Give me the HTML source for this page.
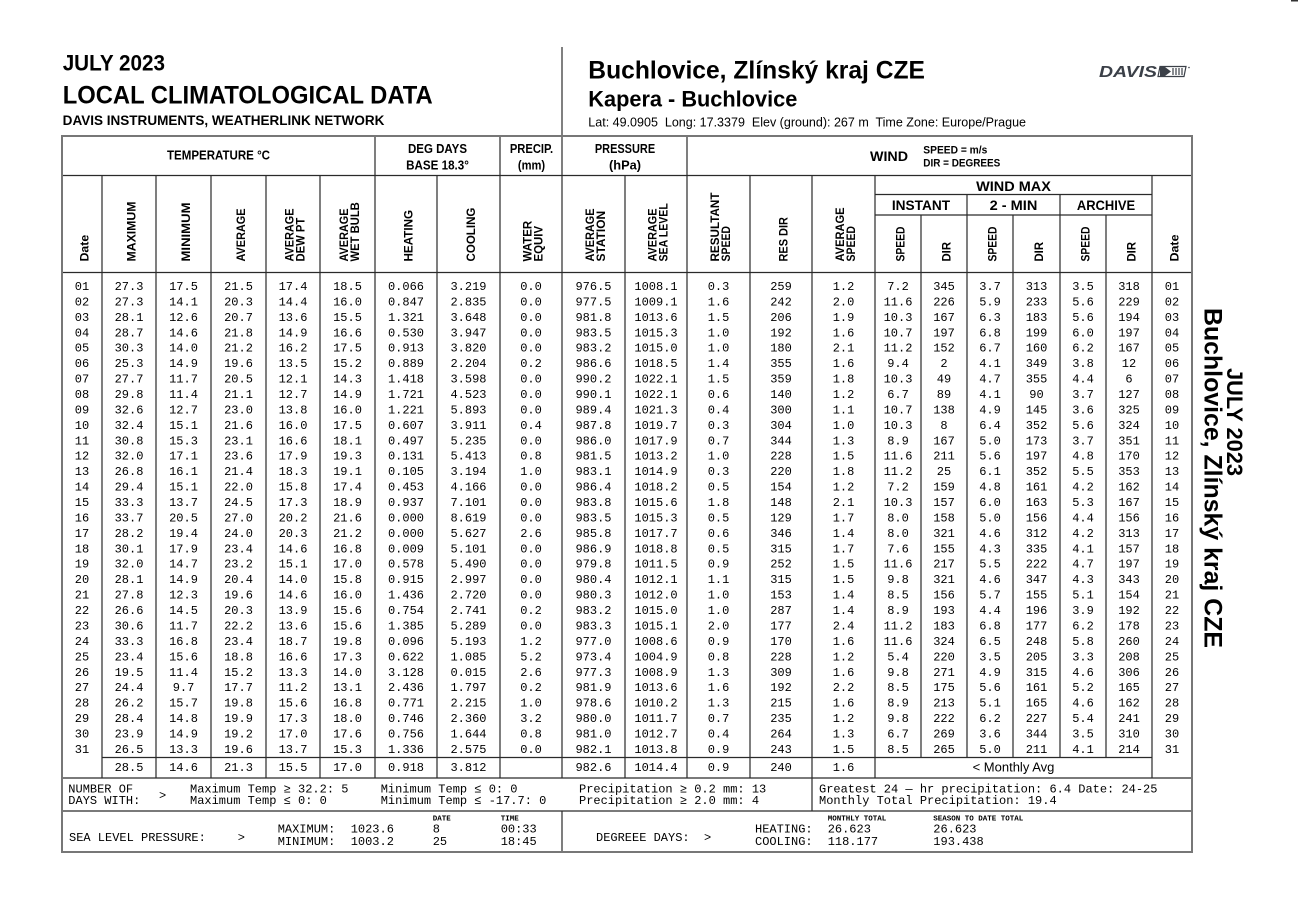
<!DOCTYPE html>
<html><head><meta charset="utf-8">
<style>
html,body{margin:0;padding:0;background:#fff;width:1298px;height:918px;overflow:hidden}
svg{display:block}
.d text{font-family:"Liberation Mono",monospace;font-size:12px;text-anchor:middle;fill:#000}
.h{font-family:"Liberation Sans",sans-serif;font-weight:bold;fill:#000}
.r text{font-family:"Liberation Sans",sans-serif;font-weight:bold;font-size:12px;fill:#000}
.m{font-family:"Liberation Mono",monospace;font-size:12px;white-space:pre;fill:#000}
.s{font-family:"Liberation Mono",monospace;font-size:7.5px;font-weight:bold;white-space:pre;fill:#000}
</style></head><body>
<svg width="1298" height="918" viewBox="0 0 1298 918" xmlns="http://www.w3.org/2000/svg">
<rect width="1298" height="918" fill="#fff"/>
<rect x="1291" y="0" width="7" height="1.5" fill="#333"/>

<!-- Titles -->
<text class="h" x="62.7" y="70.7" font-size="22" textLength="102.3" lengthAdjust="spacingAndGlyphs">JULY 2023</text>
<text class="h" x="62.7" y="103.3" font-size="25" textLength="370" lengthAdjust="spacingAndGlyphs">LOCAL CLIMATOLOGICAL DATA</text>
<text class="h" x="62.7" y="125" font-size="13.4" textLength="321.7" lengthAdjust="spacingAndGlyphs">DAVIS INSTRUMENTS, WEATHERLINK NETWORK</text>

<text class="h" x="588.3" y="78.3" font-size="25" textLength="336.7" lengthAdjust="spacingAndGlyphs">Buchlovice, Zlínský kraj CZE</text>
<text class="h" x="588.3" y="106.7" font-size="22.5" textLength="209" lengthAdjust="spacingAndGlyphs">Kapera - Buchlovice</text>
<text x="588.3" y="126.7" font-family="Liberation Sans, sans-serif" font-size="12.5" style="white-space:pre" textLength="437.7" lengthAdjust="spacingAndGlyphs">Lat: 49.0905  Long: 17.3379  Elev (ground): 267 m  Time Zone: Europe/Prague</text>

<!-- Davis logo -->
<text x="1099" y="77" font-family="Liberation Sans, sans-serif" font-weight="bold" font-style="italic" font-size="16" textLength="58" lengthAdjust="spacingAndGlyphs" fill="#3b4048">DAVIS</text>
<g stroke="#3b4048" fill="none" stroke-width="1.2">
<polygon points="1160,66.5 1186,66.5 1184,76.5 1158,76.5"/>
<path d="M1173 68V75M1176 68V75M1179 68V75M1182 68V75"/>
</g>
<rect x="1160" y="67" width="5" height="9" fill="#3b4048"/>
<polygon points="1165,67 1171,71.5 1165,76" fill="#3b4048"/>
<circle cx="1189" cy="67.5" r="0.8" fill="#3b4048"/>

<!-- Right rotated title -->
<text class="h" transform="translate(1227,368) rotate(90)" font-size="22" textLength="108" lengthAdjust="spacingAndGlyphs">JULY 2023</text>
<text class="h" transform="translate(1204.5,308) rotate(90)" font-size="25" textLength="340" lengthAdjust="spacingAndGlyphs">Buchlovice, Zlínský kraj CZE</text>

<!-- Table lines -->
<g stroke="#2a2a2a" stroke-width="1.2" fill="none">
<path d="M562 47V136"/>
<path d="M62 175.5H1192M62 272.5H1192M102 757.5H1152M62 778H1192M62 811H1192M875 194.5H1152M875 215H1152"/>
<path d="M375 136V175M500 136V175M562 136V175M687 136V175"/>
<path d="M102 175V778M156 175V778M211 175V778M266 175V778M320 175V778M375 175V778M437 175V778M500 175V778M562 175V778M625 175V778M687 175V778M750 175V778M812 175V778M875 175V778M1152 175V778"/>
<path d="M967 194.5V757.5M1060 194.5V757.5M921 215V757.5M1013 215V757.5M1106 215V757.5"/>
<path d="M812 778V811M562 811V852"/>
</g>
<rect x="62" y="136" width="1130" height="716" fill="none" stroke="#777" stroke-width="2"/>

<!-- Horizontal headers -->
<g class="h" text-anchor="middle" font-size="12.5">
<text x="218.5" y="159.3" textLength="103" lengthAdjust="spacingAndGlyphs">TEMPERATURE °C</text>
<text x="437.5" y="153" textLength="59" lengthAdjust="spacingAndGlyphs">DEG DAYS</text>
<text x="437.5" y="169.3" textLength="62.7" lengthAdjust="spacingAndGlyphs">BASE 18.3°</text>
<text x="531.5" y="153" textLength="43.3" lengthAdjust="spacingAndGlyphs">PRECIP.</text>
<text x="531.5" y="169.3" textLength="27.3" lengthAdjust="spacingAndGlyphs">(mm)</text>
<text x="625" y="153" textLength="60.3" lengthAdjust="spacingAndGlyphs">PRESSURE</text>
<text x="625" y="169.3" textLength="32" lengthAdjust="spacingAndGlyphs">(hPa)</text>
</g>
<text class="h" x="870" y="161" font-size="14" textLength="38" lengthAdjust="spacingAndGlyphs">WIND</text>
<text class="h" x="923.3" y="153.3" font-size="11" textLength="64" lengthAdjust="spacingAndGlyphs">SPEED = m/s</text>
<text class="h" x="923.3" y="166.7" font-size="11" textLength="77" lengthAdjust="spacingAndGlyphs">DIR = DEGREES</text>
<g class="h" text-anchor="middle" font-size="14">
<text x="1013.5" y="191" textLength="74.7" lengthAdjust="spacingAndGlyphs">WIND MAX</text>
<text x="921" y="210" textLength="58.3" lengthAdjust="spacingAndGlyphs">INSTANT</text>
<text x="1013.5" y="210" textLength="47.7" lengthAdjust="spacingAndGlyphs">2 - MIN</text>
<text x="1106" y="210" textLength="58.3" lengthAdjust="spacingAndGlyphs">ARCHIVE</text>
</g>

<!-- Rotated headers -->
<g class="r">
<text transform="translate(88.5,261.5) rotate(-90)" textLength="26.7" lengthAdjust="spacingAndGlyphs">Date</text>
<text transform="translate(135.5,261.5) rotate(-90)" textLength="60" lengthAdjust="spacingAndGlyphs">MAXIMUM</text>
<text transform="translate(190,261.5) rotate(-90)" textLength="59" lengthAdjust="spacingAndGlyphs">MINIMUM</text>
<text transform="translate(245,261.5) rotate(-90)" textLength="53" lengthAdjust="spacingAndGlyphs">AVERAGE</text>
<text transform="translate(293.7,261.5) rotate(-90)" textLength="53" lengthAdjust="spacingAndGlyphs">AVERAGE</text>
<text transform="translate(304.7,261.5) rotate(-90)" textLength="43.8" lengthAdjust="spacingAndGlyphs">DEW PT</text>
<text transform="translate(348.2,261.5) rotate(-90)" textLength="53" lengthAdjust="spacingAndGlyphs">AVERAGE</text>
<text transform="translate(359.2,261.5) rotate(-90)" textLength="59.3" lengthAdjust="spacingAndGlyphs">WET BULB</text>
<text transform="translate(412.5,261.5) rotate(-90)" textLength="51.6" lengthAdjust="spacingAndGlyphs">HEATING</text>
<text transform="translate(475,261.5) rotate(-90)" textLength="53.9" lengthAdjust="spacingAndGlyphs">COOLING</text>
<text transform="translate(531.7,261.5) rotate(-90)" textLength="40.7" lengthAdjust="spacingAndGlyphs">WATER</text>
<text transform="translate(542.7,261.5) rotate(-90)" textLength="35.6" lengthAdjust="spacingAndGlyphs">EQUIV</text>
<text transform="translate(594.2,261.5) rotate(-90)" textLength="53" lengthAdjust="spacingAndGlyphs">AVERAGE</text>
<text transform="translate(605.2,261.5) rotate(-90)" textLength="50.6" lengthAdjust="spacingAndGlyphs">STATION</text>
<text transform="translate(656.7,261.5) rotate(-90)" textLength="53" lengthAdjust="spacingAndGlyphs">AVERAGE</text>
<text transform="translate(667.7,261.5) rotate(-90)" textLength="58.3" lengthAdjust="spacingAndGlyphs">SEA LEVEL</text>
<text transform="translate(719.2,261.5) rotate(-90)" textLength="69" lengthAdjust="spacingAndGlyphs">RESULTANT</text>
<text transform="translate(730.2,261.5) rotate(-90)" textLength="35.5" lengthAdjust="spacingAndGlyphs">SPEED</text>
<text transform="translate(787.5,261.5) rotate(-90)" textLength="44.4" lengthAdjust="spacingAndGlyphs">RES DIR</text>
<text transform="translate(844.2,261.5) rotate(-90)" textLength="54" lengthAdjust="spacingAndGlyphs">AVERAGE</text>
<text transform="translate(855.2,261.5) rotate(-90)" textLength="35.5" lengthAdjust="spacingAndGlyphs">SPEED</text>
<text transform="translate(904.5,261.5) rotate(-90)" textLength="35" lengthAdjust="spacingAndGlyphs">SPEED</text>
<text transform="translate(950.5,261.5) rotate(-90)" textLength="19.5" lengthAdjust="spacingAndGlyphs">DIR</text>
<text transform="translate(996.5,261.5) rotate(-90)" textLength="35" lengthAdjust="spacingAndGlyphs">SPEED</text>
<text transform="translate(1043,261.5) rotate(-90)" textLength="19.5" lengthAdjust="spacingAndGlyphs">DIR</text>
<text transform="translate(1089.5,261.5) rotate(-90)" textLength="35" lengthAdjust="spacingAndGlyphs">SPEED</text>
<text transform="translate(1135.5,261.5) rotate(-90)" textLength="19.5" lengthAdjust="spacingAndGlyphs">DIR</text>
<text transform="translate(1178.5,261.5) rotate(-90)" textLength="27" lengthAdjust="spacingAndGlyphs">Date</text>
</g>

<!-- Data rows -->
<g class="d">
<text y="290"><tspan x="82">01</tspan><tspan x="129">27.3</tspan><tspan x="183.5">17.5</tspan><tspan x="238.5">21.5</tspan><tspan x="293">17.4</tspan><tspan x="347.5">18.5</tspan><tspan x="406">0.066</tspan><tspan x="468.5">3.219</tspan><tspan x="531">0.0</tspan><tspan x="593.5">976.5</tspan><tspan x="656">1008.1</tspan><tspan x="718.5">0.3</tspan><tspan x="781">259</tspan><tspan x="843.5">1.2</tspan><tspan x="898">7.2</tspan><tspan x="944">345</tspan><tspan x="990">3.7</tspan><tspan x="1036.5">313</tspan><tspan x="1083">3.5</tspan><tspan x="1129">318</tspan><tspan x="1172">01</tspan></text>
<text y="305.4"><tspan x="82">02</tspan><tspan x="129">27.3</tspan><tspan x="183.5">14.1</tspan><tspan x="238.5">20.3</tspan><tspan x="293">14.4</tspan><tspan x="347.5">16.0</tspan><tspan x="406">0.847</tspan><tspan x="468.5">2.835</tspan><tspan x="531">0.0</tspan><tspan x="593.5">977.5</tspan><tspan x="656">1009.1</tspan><tspan x="718.5">1.6</tspan><tspan x="781">242</tspan><tspan x="843.5">2.0</tspan><tspan x="898">11.6</tspan><tspan x="944">226</tspan><tspan x="990">5.9</tspan><tspan x="1036.5">233</tspan><tspan x="1083">5.6</tspan><tspan x="1129">229</tspan><tspan x="1172">02</tspan></text>
<text y="320.9"><tspan x="82">03</tspan><tspan x="129">28.1</tspan><tspan x="183.5">12.6</tspan><tspan x="238.5">20.7</tspan><tspan x="293">13.6</tspan><tspan x="347.5">15.5</tspan><tspan x="406">1.321</tspan><tspan x="468.5">3.648</tspan><tspan x="531">0.0</tspan><tspan x="593.5">981.8</tspan><tspan x="656">1013.6</tspan><tspan x="718.5">1.5</tspan><tspan x="781">206</tspan><tspan x="843.5">1.9</tspan><tspan x="898">10.3</tspan><tspan x="944">167</tspan><tspan x="990">6.3</tspan><tspan x="1036.5">183</tspan><tspan x="1083">5.6</tspan><tspan x="1129">194</tspan><tspan x="1172">03</tspan></text>
<text y="336.3"><tspan x="82">04</tspan><tspan x="129">28.7</tspan><tspan x="183.5">14.6</tspan><tspan x="238.5">21.8</tspan><tspan x="293">14.9</tspan><tspan x="347.5">16.6</tspan><tspan x="406">0.530</tspan><tspan x="468.5">3.947</tspan><tspan x="531">0.0</tspan><tspan x="593.5">983.5</tspan><tspan x="656">1015.3</tspan><tspan x="718.5">1.0</tspan><tspan x="781">192</tspan><tspan x="843.5">1.6</tspan><tspan x="898">10.7</tspan><tspan x="944">197</tspan><tspan x="990">6.8</tspan><tspan x="1036.5">199</tspan><tspan x="1083">6.0</tspan><tspan x="1129">197</tspan><tspan x="1172">04</tspan></text>
<text y="351.7"><tspan x="82">05</tspan><tspan x="129">30.3</tspan><tspan x="183.5">14.0</tspan><tspan x="238.5">21.2</tspan><tspan x="293">16.2</tspan><tspan x="347.5">17.5</tspan><tspan x="406">0.913</tspan><tspan x="468.5">3.820</tspan><tspan x="531">0.0</tspan><tspan x="593.5">983.2</tspan><tspan x="656">1015.0</tspan><tspan x="718.5">1.0</tspan><tspan x="781">180</tspan><tspan x="843.5">2.1</tspan><tspan x="898">11.2</tspan><tspan x="944">152</tspan><tspan x="990">6.7</tspan><tspan x="1036.5">160</tspan><tspan x="1083">6.2</tspan><tspan x="1129">167</tspan><tspan x="1172">05</tspan></text>
<text y="367.2"><tspan x="82">06</tspan><tspan x="129">25.3</tspan><tspan x="183.5">14.9</tspan><tspan x="238.5">19.6</tspan><tspan x="293">13.5</tspan><tspan x="347.5">15.2</tspan><tspan x="406">0.889</tspan><tspan x="468.5">2.204</tspan><tspan x="531">0.2</tspan><tspan x="593.5">986.6</tspan><tspan x="656">1018.5</tspan><tspan x="718.5">1.4</tspan><tspan x="781">355</tspan><tspan x="843.5">1.6</tspan><tspan x="898">9.4</tspan><tspan x="944">2</tspan><tspan x="990">4.1</tspan><tspan x="1036.5">349</tspan><tspan x="1083">3.8</tspan><tspan x="1129">12</tspan><tspan x="1172">06</tspan></text>
<text y="382.6"><tspan x="82">07</tspan><tspan x="129">27.7</tspan><tspan x="183.5">11.7</tspan><tspan x="238.5">20.5</tspan><tspan x="293">12.1</tspan><tspan x="347.5">14.3</tspan><tspan x="406">1.418</tspan><tspan x="468.5">3.598</tspan><tspan x="531">0.0</tspan><tspan x="593.5">990.2</tspan><tspan x="656">1022.1</tspan><tspan x="718.5">1.5</tspan><tspan x="781">359</tspan><tspan x="843.5">1.8</tspan><tspan x="898">10.3</tspan><tspan x="944">49</tspan><tspan x="990">4.7</tspan><tspan x="1036.5">355</tspan><tspan x="1083">4.4</tspan><tspan x="1129">6</tspan><tspan x="1172">07</tspan></text>
<text y="398.0"><tspan x="82">08</tspan><tspan x="129">29.8</tspan><tspan x="183.5">11.4</tspan><tspan x="238.5">21.1</tspan><tspan x="293">12.7</tspan><tspan x="347.5">14.9</tspan><tspan x="406">1.721</tspan><tspan x="468.5">4.523</tspan><tspan x="531">0.0</tspan><tspan x="593.5">990.1</tspan><tspan x="656">1022.1</tspan><tspan x="718.5">0.6</tspan><tspan x="781">140</tspan><tspan x="843.5">1.2</tspan><tspan x="898">6.7</tspan><tspan x="944">89</tspan><tspan x="990">4.1</tspan><tspan x="1036.5">90</tspan><tspan x="1083">3.7</tspan><tspan x="1129">127</tspan><tspan x="1172">08</tspan></text>
<text y="413.4"><tspan x="82">09</tspan><tspan x="129">32.6</tspan><tspan x="183.5">12.7</tspan><tspan x="238.5">23.0</tspan><tspan x="293">13.8</tspan><tspan x="347.5">16.0</tspan><tspan x="406">1.221</tspan><tspan x="468.5">5.893</tspan><tspan x="531">0.0</tspan><tspan x="593.5">989.4</tspan><tspan x="656">1021.3</tspan><tspan x="718.5">0.4</tspan><tspan x="781">300</tspan><tspan x="843.5">1.1</tspan><tspan x="898">10.7</tspan><tspan x="944">138</tspan><tspan x="990">4.9</tspan><tspan x="1036.5">145</tspan><tspan x="1083">3.6</tspan><tspan x="1129">325</tspan><tspan x="1172">09</tspan></text>
<text y="428.9"><tspan x="82">10</tspan><tspan x="129">32.4</tspan><tspan x="183.5">15.1</tspan><tspan x="238.5">21.6</tspan><tspan x="293">16.0</tspan><tspan x="347.5">17.5</tspan><tspan x="406">0.607</tspan><tspan x="468.5">3.911</tspan><tspan x="531">0.4</tspan><tspan x="593.5">987.8</tspan><tspan x="656">1019.7</tspan><tspan x="718.5">0.3</tspan><tspan x="781">304</tspan><tspan x="843.5">1.0</tspan><tspan x="898">10.3</tspan><tspan x="944">8</tspan><tspan x="990">6.4</tspan><tspan x="1036.5">352</tspan><tspan x="1083">5.6</tspan><tspan x="1129">324</tspan><tspan x="1172">10</tspan></text>
<text y="444.3"><tspan x="82">11</tspan><tspan x="129">30.8</tspan><tspan x="183.5">15.3</tspan><tspan x="238.5">23.1</tspan><tspan x="293">16.6</tspan><tspan x="347.5">18.1</tspan><tspan x="406">0.497</tspan><tspan x="468.5">5.235</tspan><tspan x="531">0.0</tspan><tspan x="593.5">986.0</tspan><tspan x="656">1017.9</tspan><tspan x="718.5">0.7</tspan><tspan x="781">344</tspan><tspan x="843.5">1.3</tspan><tspan x="898">8.9</tspan><tspan x="944">167</tspan><tspan x="990">5.0</tspan><tspan x="1036.5">173</tspan><tspan x="1083">3.7</tspan><tspan x="1129">351</tspan><tspan x="1172">11</tspan></text>
<text y="459.7"><tspan x="82">12</tspan><tspan x="129">32.0</tspan><tspan x="183.5">17.1</tspan><tspan x="238.5">23.6</tspan><tspan x="293">17.9</tspan><tspan x="347.5">19.3</tspan><tspan x="406">0.131</tspan><tspan x="468.5">5.413</tspan><tspan x="531">0.8</tspan><tspan x="593.5">981.5</tspan><tspan x="656">1013.2</tspan><tspan x="718.5">1.0</tspan><tspan x="781">228</tspan><tspan x="843.5">1.5</tspan><tspan x="898">11.6</tspan><tspan x="944">211</tspan><tspan x="990">5.6</tspan><tspan x="1036.5">197</tspan><tspan x="1083">4.8</tspan><tspan x="1129">170</tspan><tspan x="1172">12</tspan></text>
<text y="475.2"><tspan x="82">13</tspan><tspan x="129">26.8</tspan><tspan x="183.5">16.1</tspan><tspan x="238.5">21.4</tspan><tspan x="293">18.3</tspan><tspan x="347.5">19.1</tspan><tspan x="406">0.105</tspan><tspan x="468.5">3.194</tspan><tspan x="531">1.0</tspan><tspan x="593.5">983.1</tspan><tspan x="656">1014.9</tspan><tspan x="718.5">0.3</tspan><tspan x="781">220</tspan><tspan x="843.5">1.8</tspan><tspan x="898">11.2</tspan><tspan x="944">25</tspan><tspan x="990">6.1</tspan><tspan x="1036.5">352</tspan><tspan x="1083">5.5</tspan><tspan x="1129">353</tspan><tspan x="1172">13</tspan></text>
<text y="490.6"><tspan x="82">14</tspan><tspan x="129">29.4</tspan><tspan x="183.5">15.1</tspan><tspan x="238.5">22.0</tspan><tspan x="293">15.8</tspan><tspan x="347.5">17.4</tspan><tspan x="406">0.453</tspan><tspan x="468.5">4.166</tspan><tspan x="531">0.0</tspan><tspan x="593.5">986.4</tspan><tspan x="656">1018.2</tspan><tspan x="718.5">0.5</tspan><tspan x="781">154</tspan><tspan x="843.5">1.2</tspan><tspan x="898">7.2</tspan><tspan x="944">159</tspan><tspan x="990">4.8</tspan><tspan x="1036.5">161</tspan><tspan x="1083">4.2</tspan><tspan x="1129">162</tspan><tspan x="1172">14</tspan></text>
<text y="506.0"><tspan x="82">15</tspan><tspan x="129">33.3</tspan><tspan x="183.5">13.7</tspan><tspan x="238.5">24.5</tspan><tspan x="293">17.3</tspan><tspan x="347.5">18.9</tspan><tspan x="406">0.937</tspan><tspan x="468.5">7.101</tspan><tspan x="531">0.0</tspan><tspan x="593.5">983.8</tspan><tspan x="656">1015.6</tspan><tspan x="718.5">1.8</tspan><tspan x="781">148</tspan><tspan x="843.5">2.1</tspan><tspan x="898">10.3</tspan><tspan x="944">157</tspan><tspan x="990">6.0</tspan><tspan x="1036.5">163</tspan><tspan x="1083">5.3</tspan><tspan x="1129">167</tspan><tspan x="1172">15</tspan></text>
<text y="521.5"><tspan x="82">16</tspan><tspan x="129">33.7</tspan><tspan x="183.5">20.5</tspan><tspan x="238.5">27.0</tspan><tspan x="293">20.2</tspan><tspan x="347.5">21.6</tspan><tspan x="406">0.000</tspan><tspan x="468.5">8.619</tspan><tspan x="531">0.0</tspan><tspan x="593.5">983.5</tspan><tspan x="656">1015.3</tspan><tspan x="718.5">0.5</tspan><tspan x="781">129</tspan><tspan x="843.5">1.7</tspan><tspan x="898">8.0</tspan><tspan x="944">158</tspan><tspan x="990">5.0</tspan><tspan x="1036.5">156</tspan><tspan x="1083">4.4</tspan><tspan x="1129">156</tspan><tspan x="1172">16</tspan></text>
<text y="536.9"><tspan x="82">17</tspan><tspan x="129">28.2</tspan><tspan x="183.5">19.4</tspan><tspan x="238.5">24.0</tspan><tspan x="293">20.3</tspan><tspan x="347.5">21.2</tspan><tspan x="406">0.000</tspan><tspan x="468.5">5.627</tspan><tspan x="531">2.6</tspan><tspan x="593.5">985.8</tspan><tspan x="656">1017.7</tspan><tspan x="718.5">0.6</tspan><tspan x="781">346</tspan><tspan x="843.5">1.4</tspan><tspan x="898">8.0</tspan><tspan x="944">321</tspan><tspan x="990">4.6</tspan><tspan x="1036.5">312</tspan><tspan x="1083">4.2</tspan><tspan x="1129">313</tspan><tspan x="1172">17</tspan></text>
<text y="552.3"><tspan x="82">18</tspan><tspan x="129">30.1</tspan><tspan x="183.5">17.9</tspan><tspan x="238.5">23.4</tspan><tspan x="293">14.6</tspan><tspan x="347.5">16.8</tspan><tspan x="406">0.009</tspan><tspan x="468.5">5.101</tspan><tspan x="531">0.0</tspan><tspan x="593.5">986.9</tspan><tspan x="656">1018.8</tspan><tspan x="718.5">0.5</tspan><tspan x="781">315</tspan><tspan x="843.5">1.7</tspan><tspan x="898">7.6</tspan><tspan x="944">155</tspan><tspan x="990">4.3</tspan><tspan x="1036.5">335</tspan><tspan x="1083">4.1</tspan><tspan x="1129">157</tspan><tspan x="1172">18</tspan></text>
<text y="567.7"><tspan x="82">19</tspan><tspan x="129">32.0</tspan><tspan x="183.5">14.7</tspan><tspan x="238.5">23.2</tspan><tspan x="293">15.1</tspan><tspan x="347.5">17.0</tspan><tspan x="406">0.578</tspan><tspan x="468.5">5.490</tspan><tspan x="531">0.0</tspan><tspan x="593.5">979.8</tspan><tspan x="656">1011.5</tspan><tspan x="718.5">0.9</tspan><tspan x="781">252</tspan><tspan x="843.5">1.5</tspan><tspan x="898">11.6</tspan><tspan x="944">217</tspan><tspan x="990">5.5</tspan><tspan x="1036.5">222</tspan><tspan x="1083">4.7</tspan><tspan x="1129">197</tspan><tspan x="1172">19</tspan></text>
<text y="583.2"><tspan x="82">20</tspan><tspan x="129">28.1</tspan><tspan x="183.5">14.9</tspan><tspan x="238.5">20.4</tspan><tspan x="293">14.0</tspan><tspan x="347.5">15.8</tspan><tspan x="406">0.915</tspan><tspan x="468.5">2.997</tspan><tspan x="531">0.0</tspan><tspan x="593.5">980.4</tspan><tspan x="656">1012.1</tspan><tspan x="718.5">1.1</tspan><tspan x="781">315</tspan><tspan x="843.5">1.5</tspan><tspan x="898">9.8</tspan><tspan x="944">321</tspan><tspan x="990">4.6</tspan><tspan x="1036.5">347</tspan><tspan x="1083">4.3</tspan><tspan x="1129">343</tspan><tspan x="1172">20</tspan></text>
<text y="598.6"><tspan x="82">21</tspan><tspan x="129">27.8</tspan><tspan x="183.5">12.3</tspan><tspan x="238.5">19.6</tspan><tspan x="293">14.6</tspan><tspan x="347.5">16.0</tspan><tspan x="406">1.436</tspan><tspan x="468.5">2.720</tspan><tspan x="531">0.0</tspan><tspan x="593.5">980.3</tspan><tspan x="656">1012.0</tspan><tspan x="718.5">1.0</tspan><tspan x="781">153</tspan><tspan x="843.5">1.4</tspan><tspan x="898">8.5</tspan><tspan x="944">156</tspan><tspan x="990">5.7</tspan><tspan x="1036.5">155</tspan><tspan x="1083">5.1</tspan><tspan x="1129">154</tspan><tspan x="1172">21</tspan></text>
<text y="614.0"><tspan x="82">22</tspan><tspan x="129">26.6</tspan><tspan x="183.5">14.5</tspan><tspan x="238.5">20.3</tspan><tspan x="293">13.9</tspan><tspan x="347.5">15.6</tspan><tspan x="406">0.754</tspan><tspan x="468.5">2.741</tspan><tspan x="531">0.2</tspan><tspan x="593.5">983.2</tspan><tspan x="656">1015.0</tspan><tspan x="718.5">1.0</tspan><tspan x="781">287</tspan><tspan x="843.5">1.4</tspan><tspan x="898">8.9</tspan><tspan x="944">193</tspan><tspan x="990">4.4</tspan><tspan x="1036.5">196</tspan><tspan x="1083">3.9</tspan><tspan x="1129">192</tspan><tspan x="1172">22</tspan></text>
<text y="629.5"><tspan x="82">23</tspan><tspan x="129">30.6</tspan><tspan x="183.5">11.7</tspan><tspan x="238.5">22.2</tspan><tspan x="293">13.6</tspan><tspan x="347.5">15.6</tspan><tspan x="406">1.385</tspan><tspan x="468.5">5.289</tspan><tspan x="531">0.0</tspan><tspan x="593.5">983.3</tspan><tspan x="656">1015.1</tspan><tspan x="718.5">2.0</tspan><tspan x="781">177</tspan><tspan x="843.5">2.4</tspan><tspan x="898">11.2</tspan><tspan x="944">183</tspan><tspan x="990">6.8</tspan><tspan x="1036.5">177</tspan><tspan x="1083">6.2</tspan><tspan x="1129">178</tspan><tspan x="1172">23</tspan></text>
<text y="644.9"><tspan x="82">24</tspan><tspan x="129">33.3</tspan><tspan x="183.5">16.8</tspan><tspan x="238.5">23.4</tspan><tspan x="293">18.7</tspan><tspan x="347.5">19.8</tspan><tspan x="406">0.096</tspan><tspan x="468.5">5.193</tspan><tspan x="531">1.2</tspan><tspan x="593.5">977.0</tspan><tspan x="656">1008.6</tspan><tspan x="718.5">0.9</tspan><tspan x="781">170</tspan><tspan x="843.5">1.6</tspan><tspan x="898">11.6</tspan><tspan x="944">324</tspan><tspan x="990">6.5</tspan><tspan x="1036.5">248</tspan><tspan x="1083">5.8</tspan><tspan x="1129">260</tspan><tspan x="1172">24</tspan></text>
<text y="660.3"><tspan x="82">25</tspan><tspan x="129">23.4</tspan><tspan x="183.5">15.6</tspan><tspan x="238.5">18.8</tspan><tspan x="293">16.6</tspan><tspan x="347.5">17.3</tspan><tspan x="406">0.622</tspan><tspan x="468.5">1.085</tspan><tspan x="531">5.2</tspan><tspan x="593.5">973.4</tspan><tspan x="656">1004.9</tspan><tspan x="718.5">0.8</tspan><tspan x="781">228</tspan><tspan x="843.5">1.2</tspan><tspan x="898">5.4</tspan><tspan x="944">220</tspan><tspan x="990">3.5</tspan><tspan x="1036.5">205</tspan><tspan x="1083">3.3</tspan><tspan x="1129">208</tspan><tspan x="1172">25</tspan></text>
<text y="675.8"><tspan x="82">26</tspan><tspan x="129">19.5</tspan><tspan x="183.5">11.4</tspan><tspan x="238.5">15.2</tspan><tspan x="293">13.3</tspan><tspan x="347.5">14.0</tspan><tspan x="406">3.128</tspan><tspan x="468.5">0.015</tspan><tspan x="531">2.6</tspan><tspan x="593.5">977.3</tspan><tspan x="656">1008.9</tspan><tspan x="718.5">1.3</tspan><tspan x="781">309</tspan><tspan x="843.5">1.6</tspan><tspan x="898">9.8</tspan><tspan x="944">271</tspan><tspan x="990">4.9</tspan><tspan x="1036.5">315</tspan><tspan x="1083">4.6</tspan><tspan x="1129">306</tspan><tspan x="1172">26</tspan></text>
<text y="691.2"><tspan x="82">27</tspan><tspan x="129">24.4</tspan><tspan x="183.5">9.7</tspan><tspan x="238.5">17.7</tspan><tspan x="293">11.2</tspan><tspan x="347.5">13.1</tspan><tspan x="406">2.436</tspan><tspan x="468.5">1.797</tspan><tspan x="531">0.2</tspan><tspan x="593.5">981.9</tspan><tspan x="656">1013.6</tspan><tspan x="718.5">1.6</tspan><tspan x="781">192</tspan><tspan x="843.5">2.2</tspan><tspan x="898">8.5</tspan><tspan x="944">175</tspan><tspan x="990">5.6</tspan><tspan x="1036.5">161</tspan><tspan x="1083">5.2</tspan><tspan x="1129">165</tspan><tspan x="1172">27</tspan></text>
<text y="706.6"><tspan x="82">28</tspan><tspan x="129">26.2</tspan><tspan x="183.5">15.7</tspan><tspan x="238.5">19.8</tspan><tspan x="293">15.6</tspan><tspan x="347.5">16.8</tspan><tspan x="406">0.771</tspan><tspan x="468.5">2.215</tspan><tspan x="531">1.0</tspan><tspan x="593.5">978.6</tspan><tspan x="656">1010.2</tspan><tspan x="718.5">1.3</tspan><tspan x="781">215</tspan><tspan x="843.5">1.6</tspan><tspan x="898">8.9</tspan><tspan x="944">213</tspan><tspan x="990">5.1</tspan><tspan x="1036.5">165</tspan><tspan x="1083">4.6</tspan><tspan x="1129">162</tspan><tspan x="1172">28</tspan></text>
<text y="722.0"><tspan x="82">29</tspan><tspan x="129">28.4</tspan><tspan x="183.5">14.8</tspan><tspan x="238.5">19.9</tspan><tspan x="293">17.3</tspan><tspan x="347.5">18.0</tspan><tspan x="406">0.746</tspan><tspan x="468.5">2.360</tspan><tspan x="531">3.2</tspan><tspan x="593.5">980.0</tspan><tspan x="656">1011.7</tspan><tspan x="718.5">0.7</tspan><tspan x="781">235</tspan><tspan x="843.5">1.2</tspan><tspan x="898">9.8</tspan><tspan x="944">222</tspan><tspan x="990">6.2</tspan><tspan x="1036.5">227</tspan><tspan x="1083">5.4</tspan><tspan x="1129">241</tspan><tspan x="1172">29</tspan></text>
<text y="737.5"><tspan x="82">30</tspan><tspan x="129">23.9</tspan><tspan x="183.5">14.9</tspan><tspan x="238.5">19.2</tspan><tspan x="293">17.0</tspan><tspan x="347.5">17.6</tspan><tspan x="406">0.756</tspan><tspan x="468.5">1.644</tspan><tspan x="531">0.8</tspan><tspan x="593.5">981.0</tspan><tspan x="656">1012.7</tspan><tspan x="718.5">0.4</tspan><tspan x="781">264</tspan><tspan x="843.5">1.3</tspan><tspan x="898">6.7</tspan><tspan x="944">269</tspan><tspan x="990">3.6</tspan><tspan x="1036.5">344</tspan><tspan x="1083">3.5</tspan><tspan x="1129">310</tspan><tspan x="1172">30</tspan></text>
<text y="752.9"><tspan x="82">31</tspan><tspan x="129">26.5</tspan><tspan x="183.5">13.3</tspan><tspan x="238.5">19.6</tspan><tspan x="293">13.7</tspan><tspan x="347.5">15.3</tspan><tspan x="406">1.336</tspan><tspan x="468.5">2.575</tspan><tspan x="531">0.0</tspan><tspan x="593.5">982.1</tspan><tspan x="656">1013.8</tspan><tspan x="718.5">0.9</tspan><tspan x="781">243</tspan><tspan x="843.5">1.5</tspan><tspan x="898">8.5</tspan><tspan x="944">265</tspan><tspan x="990">5.0</tspan><tspan x="1036.5">211</tspan><tspan x="1083">4.1</tspan><tspan x="1129">214</tspan><tspan x="1172">31</tspan></text>
<text y="771"><tspan x="129">28.5</tspan><tspan x="183.5">14.6</tspan><tspan x="238.5">21.3</tspan><tspan x="293">15.5</tspan><tspan x="347.5">17.0</tspan><tspan x="406">0.918</tspan><tspan x="468.5">3.812</tspan><tspan x="593.5">982.6</tspan><tspan x="656">1014.4</tspan><tspan x="718.5">0.9</tspan><tspan x="781">240</tspan><tspan x="843.5">1.6</tspan></text>
</g>
<text x="1013.5" y="771.5" font-family="Liberation Sans, sans-serif" font-size="13" text-anchor="middle">&lt; Monthly Avg</text>

<!-- Number of days -->
<text class="m" x="68.3" y="792.3">NUMBER OF</text>
<text class="m" x="68.3" y="804">DAYS WITH:</text>
<text class="m" x="159" y="799">&gt;</text>
<text class="m" x="190" y="792.3">Maximum Temp ≥ 32.2: 5</text>
<text class="m" x="190" y="804">Maximum Temp ≤ 0: 0</text>
<text class="m" x="380.7" y="792.3">Minimum Temp ≤ 0: 0</text>
<text class="m" x="380.7" y="804">Minimum Temp ≤ -17.7: 0</text>
<text class="m" x="579" y="792.3">Precipitation ≥ 0.2 mm: 13</text>
<text class="m" x="579" y="804">Precipitation ≥ 2.0 mm: 4</text>
<text class="m" x="819" y="792.3">Greatest 24 — hr precipitation: 6.4 Date: 24-25</text>
<text class="m" x="819" y="804">Monthly Total Precipitation: 19.4</text>

<!-- Sea level pressure / degree days -->
<text class="m" x="69" y="841">SEA LEVEL PRESSURE:</text>
<text class="m" x="237.7" y="841">&gt;</text>
<text class="m" x="277.7" y="832.7">MAXIMUM:</text>
<text class="m" x="277.7" y="845">MINIMUM:</text>
<text class="m" x="350.7" y="832.7">1023.6</text>
<text class="m" x="350.7" y="845">1003.2</text>
<text class="s" x="432.7" y="820.5">DATE</text>
<text class="m" x="432.7" y="832.7">8</text>
<text class="m" x="432.7" y="845">25</text>
<text class="s" x="500.7" y="820.5">TIME</text>
<text class="m" x="500.7" y="832.7">00:33</text>
<text class="m" x="500.7" y="845">18:45</text>
<text class="m" x="596" y="841">DEGREEE DAYS:  &gt;</text>
<text class="m" x="755" y="832.7">HEATING:</text>
<text class="m" x="755" y="845">COOLING:</text>
<text class="s" x="827.7" y="820.5">MONTHLY TOTAL</text>
<text class="m" x="827.7" y="832.7">26.623</text>
<text class="m" x="827.7" y="845">118.177</text>
<text class="s" x="933.3" y="820.5">SEASON TO DATE TOTAL</text>
<text class="m" x="933.3" y="832.7">26.623</text>
<text class="m" x="933.3" y="845">193.438</text>
</svg>
</body></html>
